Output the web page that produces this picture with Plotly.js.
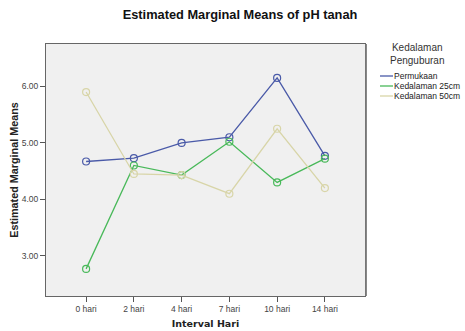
<!DOCTYPE html>
<html>
<head>
<meta charset="utf-8">
<script src="https://cdn.plot.ly/plotly-3.0.1.min.js"></script>
<style>html,body{margin:0;padding:0;background:#fff;}#chart{width:465px;height:331px;}</style>
</head>
<body>
<div id="chart"></div>
<script>
// ---- data ----
var categories = ["0 hari", "2 hari", "4 hari", "7 hari", "10 hari", "14 hari"];
var seriesNames = ["Permukaan", "Kedalaman 25cm", "Kedalaman 50cm"];
var permukaan = [4.67, 4.73, 5.00, 5.10, 6.15, 4.77];
var kedalaman25 = [2.77, 4.60, 4.43, 5.02, 4.30, 4.72];
var kedalaman50 = [5.90, 4.45, 4.43, 4.10, 5.25, 4.20];
var yTickVals = [3, 4, 5, 6];
var chartTitle = "Estimated Marginal Means of pH tanah";
var xTitle = "Interval Hari";
var yTitle = "Estimated Marginal Means";
var legendTitle = "Kedalaman<br>Penguburan";

// ---- styling ----
var colors = ["#4a5aa8", "#49b95a", "#d8d5a8"];
var seriesValues = [permukaan, kedalaman25, kedalaman50];
var W = 465, H = 331;
var M = {l: 46, r: 100, t: 44, b: 35};
var pw = W - M.l - M.r, ph = H - M.t - M.b;
function px2x(px) { return (px - M.l) / pw; }
function py2y(py) { return (H - M.b - py) / ph; }

var traces = seriesNames.map(function (name, i) {
  return {
    type: "scatter",
    mode: "lines+markers",
    name: name,
    x: categories,
    y: seriesValues[i],
    line: {color: colors[i], width: 1.3},
    marker: {symbol: "circle-open", size: 7, color: colors[i], line: {width: 1.2, color: colors[i]}},
    showlegend: false
  };
});

var font = "Liberation Sans, Arial, sans-serif";
var annotations = [{
  text: legendTitle, xref: "paper", yref: "paper",
  x: px2x(417), y: py2y(40), xanchor: "center", yanchor: "top",
  showarrow: false, align: "center",
  font: {family: font, size: 10, color: "#333"}
}];
var shapes = [];
var itemY = [76, 86, 96];
seriesNames.forEach(function (name, i) {
  annotations.push({
    text: name, xref: "paper", yref: "paper",
    x: px2x(393), y: py2y(itemY[i]), xanchor: "left", yanchor: "middle",
    showarrow: false, borderpad: 0,
    font: {family: font, size: 8.5, color: "#222"}
  });
  shapes.push({
    type: "line", xref: "paper", yref: "paper",
    x0: px2x(380), x1: px2x(393), y0: py2y(itemY[i]), y1: py2y(itemY[i]),
    line: {color: colors[i], width: 1.3}
  });
});
// frame shadow on right edge
shapes.push({type: "line", xref: "paper", yref: "paper", x0: 1.004, x1: 1.004, y0: 0, y1: 1, line: {color: "#888", width: 1.5}});

var layout = {
  width: W, height: H,
  margin: M,
  paper_bgcolor: "#ffffff",
  plot_bgcolor: "#f0f0f0",
  showlegend: false,
  title: {
    text: "<b>" + chartTitle + "</b>",
    x: 240 / W, xref: "container", xanchor: "center",
    y: 1 - 15 / H, yref: "container", yanchor: "middle",
    font: {family: font, size: 12.8, color: "#111"}
  },
  xaxis: {
    type: "category",
    categoryorder: "array", categoryarray: categories,
    range: [-0.84, 5.84],
    showgrid: false, zeroline: false,
    showline: true, mirror: true, linecolor: "#666", linewidth: 1,
    ticks: "outside", ticklen: 5, tickcolor: "#555",
    tickfont: {family: font, size: 8.5, color: "#444"},
    title: {text: "<b>" + xTitle + "</b>", standoff: 7, font: {family: "DejaVu Sans, Verdana, sans-serif", size: 9.5, color: "#222"}}
  },
  yaxis: {
    range: [2.29, 6.75],
    tickvals: yTickVals, tickformat: ".2f",
    showgrid: false, zeroline: false,
    showline: true, mirror: true, linecolor: "#666", linewidth: 1,
    ticks: "outside", ticklen: 5, tickcolor: "#555",
    tickfont: {family: font, size: 8.5, color: "#444"},
    title: {text: "<b>" + yTitle + "</b>", standoff: 0, font: {family: font, size: 10.8, color: "#222"}}
  },
  annotations: annotations,
  shapes: shapes
};

Plotly.newPlot("chart", traces, layout, {displayModeBar: false, staticPlot: true});
</script>
</body>
</html>
